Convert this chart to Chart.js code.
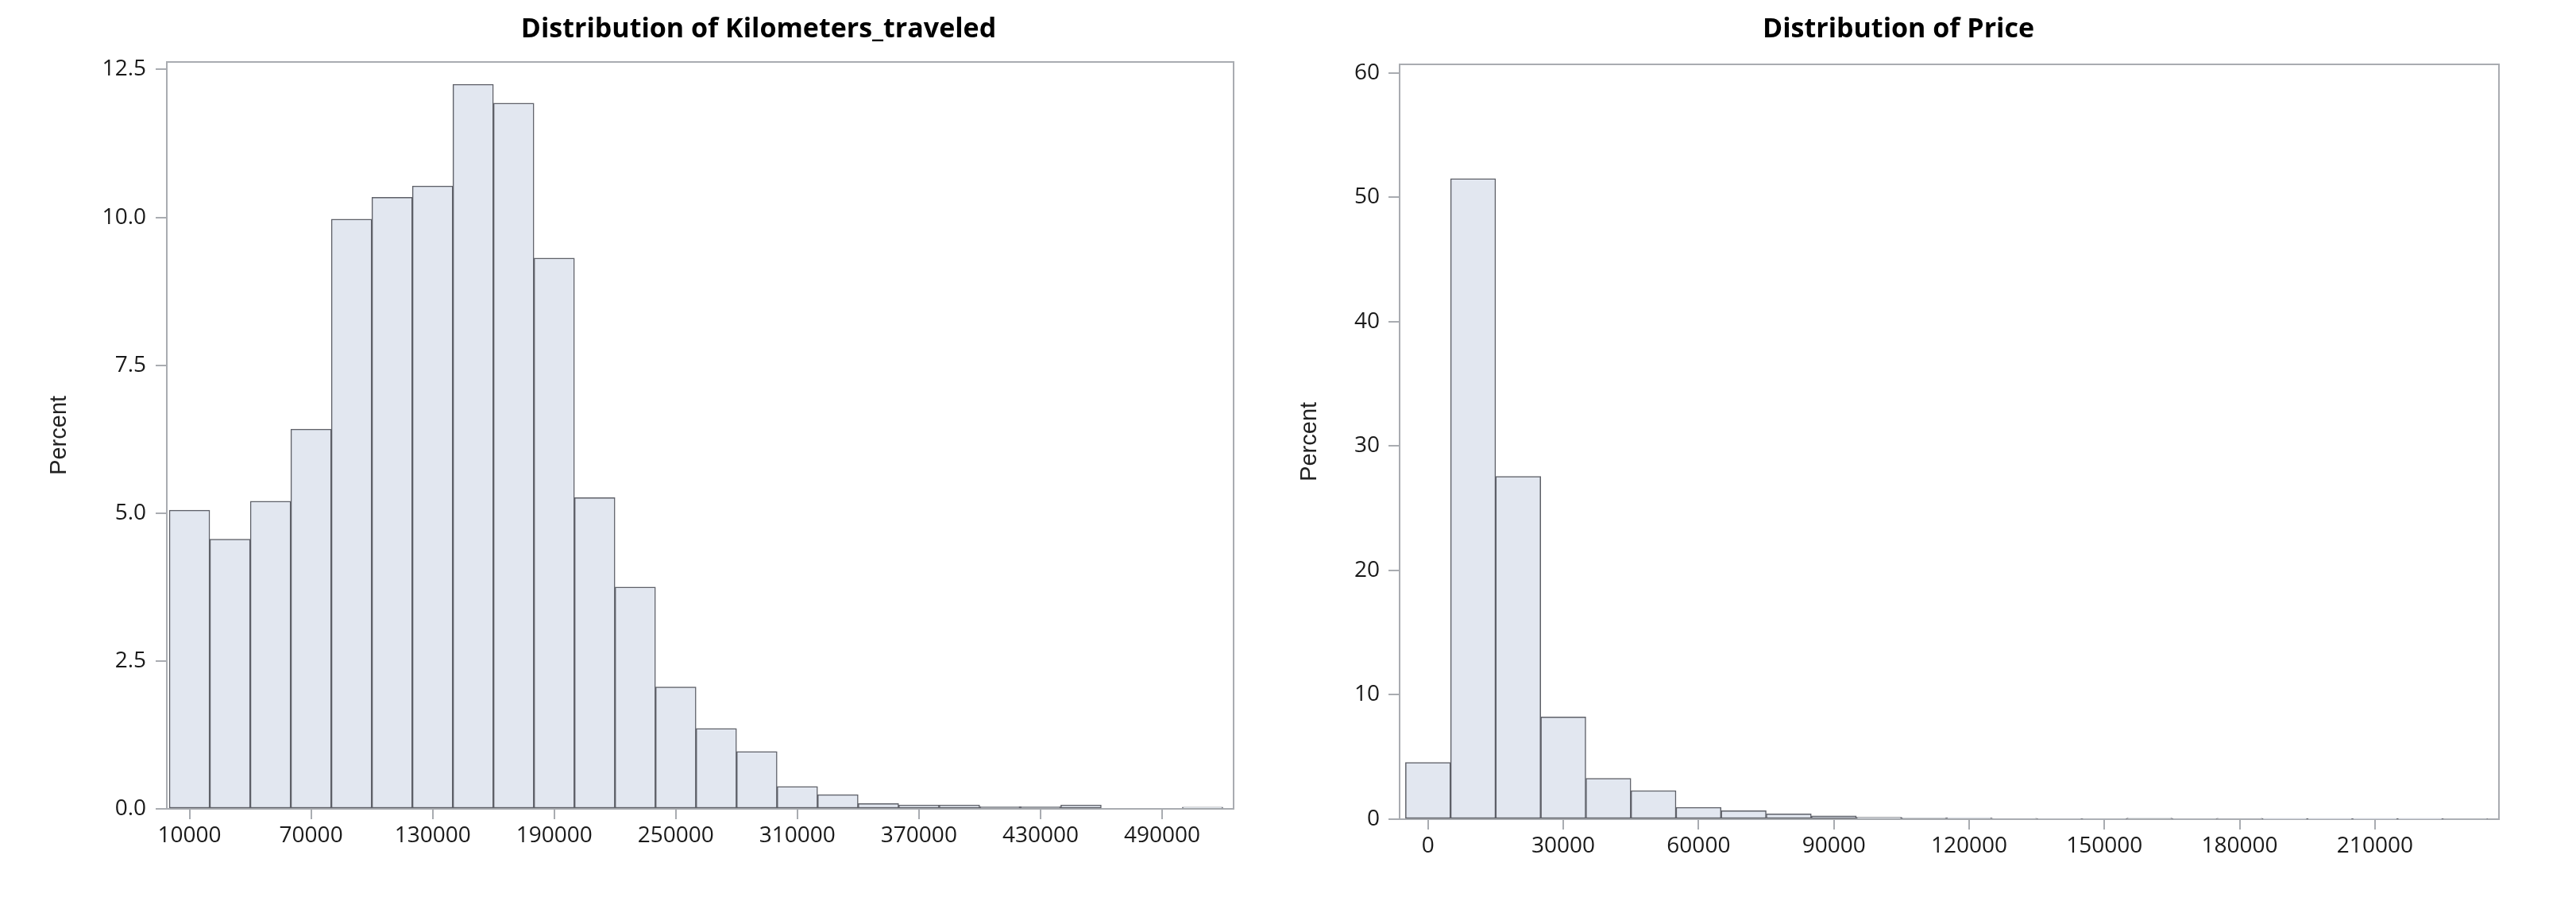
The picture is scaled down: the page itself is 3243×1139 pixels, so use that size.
<!DOCTYPE html>
<html>
<head>
    <title>Distribution of Kilometers_traveled and Price</title>
    <script src="https://cdn.jsdelivr.net/npm/chart.js"></script>
    <style>
        body { margin: 0; background: #fff; }
        canvas { position: absolute; top: 0; }
    </style>
</head>
<body>
    <canvas id="kmChart" width="1910" height="1139" style="left:0px"></canvas>
    <canvas id="priceChart" width="1560" height="1139" style="left:1610px"></canvas>

    <script>
        // Kilometers_traveled: bins 20000 wide, given by their midpoints
        const kmMids = [10000, 30000, 50000, 70000, 90000, 110000, 130000, 150000, 170000, 190000,
                        210000, 230000, 250000, 270000, 290000, 310000, 330000, 350000, 370000, 390000,
                        410000, 430000, 450000, 470000, 490000, 510000];
        const kmPercent = [5.05, 4.56, 5.2, 6.42, 9.97, 10.34, 10.53, 12.25, 11.93, 9.31,
                           5.26, 3.75, 2.06, 1.36, 0.97, 0.38, 0.24, 0.09, 0.067, 0.067,
                           0.04, 0.04, 0.067, 0, 0, 0.03];
        const kmXTicks = [10000, 70000, 130000, 190000, 250000, 310000, 370000, 430000, 490000];
        const kmYTicks = [0, 2.5, 5, 7.5, 10, 12.5];

        // Price: bins 10000 wide, given by their midpoints
        const priceMids = [0, 10000, 20000, 30000, 40000, 50000, 60000, 70000, 80000, 90000,
                           100000, 110000, 120000, 130000, 140000, 150000, 160000, 170000, 180000, 190000,
                           200000, 210000, 220000, 230000];
        const pricePercent = [4.57, 51.5, 27.56, 8.22, 3.28, 2.3, 0.95, 0.68, 0.43, 0.26,
                              0.15, 0.1, 0.12, 0.07, 0.04, 0.03, 0.09, 0.03, 0.07, 0.02,
                              0.02, 0.02, 0.02, 0.03];
        const priceXTicks = [0, 30000, 60000, 90000, 120000, 150000, 180000, 210000];
        const priceYTicks = [0, 10, 20, 30, 40, 50, 60];

        const barFill = '#e2e7f0';
        const barEdge = '#5e6068';
        const frame = '#a9acb1';
        const tickFont = { family: 'Open Sans', size: 28 };

        function histogram(id, o) {
            const ctx = document.getElementById(id).getContext('2d');
            return new Chart(ctx, {
                type: 'bar',
                data: {
                    datasets: [{
                        label: 'Percent',
                        data: o.mids.map((m, i) => ({ x: m, y: o.values[i] })),
                        backgroundColor: barFill,
                        borderColor: barEdge,
                        borderWidth: 1.5,
                        borderSkipped: false,
                        barPercentage: 1,
                        categoryPercentage: 1
                    }]
                },
                options: {
                    responsive: false,
                    animation: false,
                    plugins: {
                        legend: { display: false },
                        tooltip: { enabled: false },
                        title: {
                            display: true,
                            text: o.title,
                            color: '#000',
                            font: { family: 'Open Sans', weight: 'bold', size: 34, lineHeight: 1.2 },
                            padding: { top: 17, bottom: o.titleGap }
                        }
                    },
                    scales: {
                        x: {
                            type: 'linear',
                            offset: false,
                            min: o.xMin,
                            max: o.xMax,
                            afterBuildTicks: s => { s.ticks = o.xTicks.map(v => ({ value: v })); },
                            afterFit: s => { s.height = o.xHeight; },
                            grid: { offset: false, drawOnChartArea: false, color: frame, lineWidth: 2, tickLength: 13 },
                            border: { color: frame, width: 2 },
                            ticks: { color: '#1a1a1a', font: tickFont, padding: 4, maxRotation: 0, autoSkip: false,
                                     callback: v => String(v) }
                        },
                        y: {
                            min: 0,
                            max: o.yMax,
                            afterBuildTicks: s => { s.ticks = o.yTicks.map(v => ({ value: v })); },
                            afterFit: s => { s.width = o.yWidth; },
                            grid: { drawOnChartArea: false, color: frame, lineWidth: 2, tickLength: 14 },
                            border: { color: frame, width: 2 },
                            ticks: { color: '#1a1a1a', font: tickFont, padding: o.yPad, autoSkip: false,
                                     callback: o.yFormat },
                            title: {
                                display: true,
                                text: 'Percent',
                                color: '#222',
                                font: { family: 'Liberation Sans', size: 29, lineHeight: 1.2 },
                                padding: { top: o.yTitleTop, bottom: 0 }
                            }
                        },
                        x2: {
                            type: 'linear',
                            position: 'top',
                            grid: { display: false },
                            ticks: { display: false },
                            border: { color: frame, width: 2 },
                            afterFit: s => { s.height = 0; }
                        },
                        y2: {
                            type: 'linear',
                            position: 'right',
                            grid: { display: false },
                            ticks: { display: false },
                            border: { color: frame, width: 2 },
                            afterFit: s => { s.width = o.rightGap; }
                        }
                    }
                }
            });
        }

        histogram('kmChart', {
            title: 'Distribution of Kilometers_traveled',
            mids: kmMids, values: kmPercent,
            xTicks: kmXTicks, yTicks: kmYTicks,
            xMin: -1200, xMax: 525300, yMax: 12.63,
            yFormat: v => v.toFixed(1),
            rightGap: 357, yWidth: 210, xHeight: 121,
            titleGap: 20, yPad: 12, yTitleTop: 58
        });

        histogram('priceChart', {
            title: 'Distribution of Price',
            mids: priceMids, values: pricePercent,
            xTicks: priceXTicks, yTicks: priceYTicks,
            xMin: -6300, xMax: 237500, yMax: 60.7,
            yFormat: v => String(v),
            rightGap: 24, yWidth: 152, xHeight: 108,
            titleGap: 23, yPad: 11, yTitleTop: 22
        });
    </script>
</body>
</html>
